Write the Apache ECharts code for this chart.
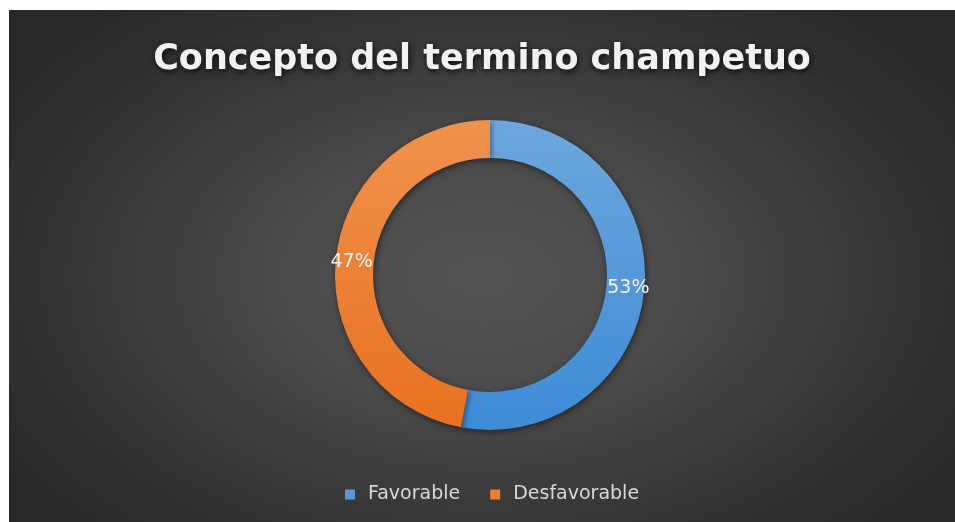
<!DOCTYPE html>
<html>
<head>
<meta charset="utf-8">
<script src="https://cdn.jsdelivr.net/npm/echarts@6/dist/echarts.min.js"></script>
<style>
  html, body { margin: 0; padding: 0; background: #ffffff; width: 955px; height: 522px; overflow: hidden; }
  #chart { position: absolute; left: 9px; top: 10px; width: 946px; height: 512px;
    background: radial-gradient(ellipse 60% 70% at 50% 52%, #545454 0%, #4a4a4a 35%, #363636 70%, #282828 100%); }
</style>
</head>
<body>
<div id="chart"></div>
<script>
const titleText = "Concepto del termino champetuo";
const categories = ["Favorable", "Desfavorable"];
const values = [53, 47];

const colors = [
  new echarts.graphic.LinearGradient(0, 0, 0, 1, [{offset: 0, color: '#6ea7dd'}, {offset: 1, color: '#3d8bd6'}]),
  new echarts.graphic.LinearGradient(0, 0, 0, 1, [{offset: 0, color: '#f0924e'}, {offset: 1, color: '#e9711f'}])
];
const legendColors = ['#5b9bd5', '#ed7d31'];

const chart = echarts.init(document.getElementById('chart'));
chart.setOption({
  backgroundColor: 'transparent',
  title: {
    text: titleText,
    left: 'center',
    top: 27,
    textStyle: {
      color: '#f2f2f2',
      fontFamily: 'DejaVu Sans',
      fontWeight: 'bold',
      fontSize: 35,
      textShadowColor: 'rgba(0,0,0,0.8)',
      textShadowBlur: 6,
      textShadowOffsetX: 1,
      textShadowOffsetY: 2
    }
  },
  legend: {
    data: categories.map((c, i) => ({ name: c, itemStyle: { color: legendColors[i] } })),
    bottom: 13,
    left: 331,
    icon: 'rect',
    itemWidth: 10,
    itemHeight: 10,
    itemGap: 30,
    textStyle: { color: '#d9d9d9', fontSize: 19, fontFamily: 'DejaVu Sans', padding: [0, 0, 0, 8] }
  },
  series: [{
    type: 'pie',
    center: [481, 265],
    radius: [117, 155],
    startAngle: 90,
    clockwise: true,
    silent: true,
    label: {
      show: true,
      position: 'inside',
      formatter: '{d}%',
      color: '#f2f2f2',
      fontSize: 19,
      fontFamily: 'DejaVu Sans'
    },
    labelLine: { show: false },
    itemStyle: {
      shadowColor: 'rgba(0,0,0,0.5)',
      shadowBlur: 6,
      shadowOffsetX: 1,
      shadowOffsetY: 2
    },
    data: categories.map((c, i) => ({ name: c, value: values[i], itemStyle: { color: colors[i] } }))
  }]
});
</script>
</body>
</html>
